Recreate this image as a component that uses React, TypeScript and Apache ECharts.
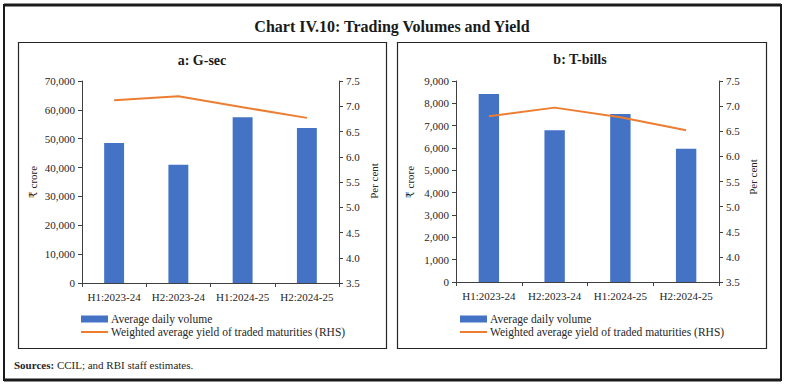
import React, { useEffect, useRef } from "react";
import * as echarts from "echarts";

const categories = ["H1:2023-24", "H2:2023-24", "H1:2024-25", "H2:2024-25"];
const gsecVolume = [48500, 41000, 57400, 53700];
const gsecYield = [7.12, 7.2, 6.98, 6.77];
const tbillVolume = [8420, 6800, 7520, 5970];
const tbillYield = [6.8, 6.97, 6.78, 6.52];

const barName = "Average daily volume";
const lineName = "Weighted average yield of traded maturities (RHS)";
const chartTitle = "Chart IV.10: Trading Volumes and Yield";
const panelTitles = ["a: G-sec", "b: T-bills"];

const FONT = '"Liberation Serif", "DejaVu Serif", serif';
const BAR = "#4472C4";
const LINE = "#ED7D31";
const AXIS = "#404040";
const TXT = "#262626";

export default function App() {
  const ref = useRef<HTMLDivElement>(null);
  useEffect(() => {
    if (!ref.current) return;
    const chart = echarts.init(ref.current, undefined, { renderer: "svg" });
    const fmtVol = (v: number) => v.toLocaleString("en-US");
    const fmtPct = (v: number) => v.toFixed(1);
    const leftAxis = (gridIndex: number, max: number, interval: number) => ({
      type: "value",
      gridIndex,
      min: 0,
      max,
      interval,
      splitLine: { show: false },
      axisLine: { show: true, lineStyle: { color: AXIS, width: 1 } },
      axisTick: { show: true, length: 4, lineStyle: { color: AXIS } },
      axisLabel: { formatter: fmtVol, color: TXT, fontFamily: FONT, fontSize: 11, margin: 7 },
    });
    const rightAxis = (gridIndex: number) => ({
      type: "value",
      gridIndex,
      position: "right",
      min: 3.5,
      max: 7.5,
      interval: 0.5,
      splitLine: { show: false },
      axisLine: { show: true, lineStyle: { color: AXIS, width: 1 } },
      axisTick: { show: true, length: 4, lineStyle: { color: AXIS } },
      axisLabel: { formatter: fmtPct, color: TXT, fontFamily: FONT, fontSize: 11, margin: 7 },
    });
    const xAxis = (gridIndex: number) => ({
      type: "category",
      gridIndex,
      data: categories,
      axisLine: { show: true, lineStyle: { color: AXIS, width: 1 } },
      axisTick: { show: true, length: 4, lineStyle: { color: AXIS } },
      axisLabel: { color: TXT, fontFamily: FONT, fontSize: 11, margin: 8, interval: 0, hideOverlap: false },
    });
    const legend = (left: number) => ({
      left,
      top: 308,
      orient: "vertical",
      itemWidth: 27,
      itemHeight: 7,
      itemGap: 1,
      selectedMode: false,
      symbolKeepAspect: true,
      textStyle: { color: TXT, fontFamily: FONT, fontSize: 11.5, padding: [0, 0, 0, -2] },
      data: [
        { name: barName, icon: "rect" },
        { name: lineName, icon: "path://M0,0H27V2H0Z" },
      ],
    });
    const vText = (x: number, y: number, text: string) => ({
      type: "text",
      x,
      y,
      rotation: Math.PI / 2,
      style: {
        text,
        fill: TXT,
        font: `11px ${FONT}`,
        align: "center",
        verticalAlign: "middle",
      },
    });
    chart.setOption({
      animation: false,
      backgroundColor: "#ffffff",
      textStyle: { fontFamily: FONT },
      grid: [
        { left: 82, top: 81, width: 257, height: 202 },
        { left: 456, top: 81, width: 263, height: 201 },
      ],
      xAxis: [xAxis(0), xAxis(1)],
      yAxis: [leftAxis(0, 70000, 10000), rightAxis(0), leftAxis(1, 9000, 1000), rightAxis(1)],
      legend: [legend(76), legend(455)],
      series: [
        { name: barName, type: "bar", xAxisIndex: 0, yAxisIndex: 0, data: gsecVolume, barWidth: "31%", itemStyle: { color: BAR } },
        { name: lineName, type: "line", xAxisIndex: 0, yAxisIndex: 1, data: gsecYield, symbol: "none", lineStyle: { color: LINE, width: 2 }, itemStyle: { color: LINE } },
        { name: barName, type: "bar", xAxisIndex: 1, yAxisIndex: 2, data: tbillVolume, barWidth: "31%", itemStyle: { color: BAR } },
        { name: lineName, type: "line", xAxisIndex: 1, yAxisIndex: 3, data: tbillYield, symbol: "none", lineStyle: { color: LINE, width: 2 }, itemStyle: { color: LINE } },
      ],
      graphic: [
        { type: "rect", shape: { x: 4, y: 5, width: 777, height: 375 }, style: { fill: "none", stroke: "#1a1a1a", lineWidth: 2 }, z: 10 },
        { type: "line", shape: { x1: 4, y1: 5, x2: 781, y2: 5 }, style: { stroke: "#1a1a1a", lineWidth: 3 }, z: 10 },
        { type: "line", shape: { x1: 4, y1: 380, x2: 781, y2: 380 }, style: { stroke: "#1a1a1a", lineWidth: 3 }, z: 10 },
        { type: "rect", shape: { x: 18.5, y: 42.5, width: 368, height: 306 }, style: { fill: "none", stroke: "#262626", lineWidth: 1.2 }, z: 10 },
        { type: "rect", shape: { x: 397.5, y: 42.5, width: 369, height: 306 }, style: { fill: "none", stroke: "#262626", lineWidth: 1.2 }, z: 10 },
        { type: "text", x: 392, y: 26, style: { text: chartTitle, fill: "#1a1a1a", font: `bold 16px ${FONT}`, align: "center", verticalAlign: "middle" } },
        { type: "text", x: 202, y: 60, style: { text: panelTitles[0], fill: "#1a1a1a", font: `bold 14px ${FONT}`, align: "center", verticalAlign: "middle" } },
        { type: "text", x: 580, y: 59, style: { text: panelTitles[1], fill: "#1a1a1a", font: `bold 14px ${FONT}`, align: "center", verticalAlign: "middle" } },
        vText(33, 182, "₹ crore"),
        vText(410, 182, "₹ crore"),
        vText(374, 181, "Per cent"),
        vText(753, 177, "Per cent"),
        {
          type: "text",
          x: 14,
          y: 365,
          style: {
            text: "{b|Sources:} CCIL; and RBI staff estimates.",
            fill: TXT,
            font: `11px ${FONT}`,
            verticalAlign: "middle",
            rich: { b: { fontWeight: "bold", fontFamily: FONT, fontSize: 11, fill: TXT } },
          },
        },
      ],
    });
    return () => chart.dispose();
  }, []);
  return <div ref={ref} style={{ position: "absolute", left: 0, top: 0, width: 785, height: 389 }} />;
}
